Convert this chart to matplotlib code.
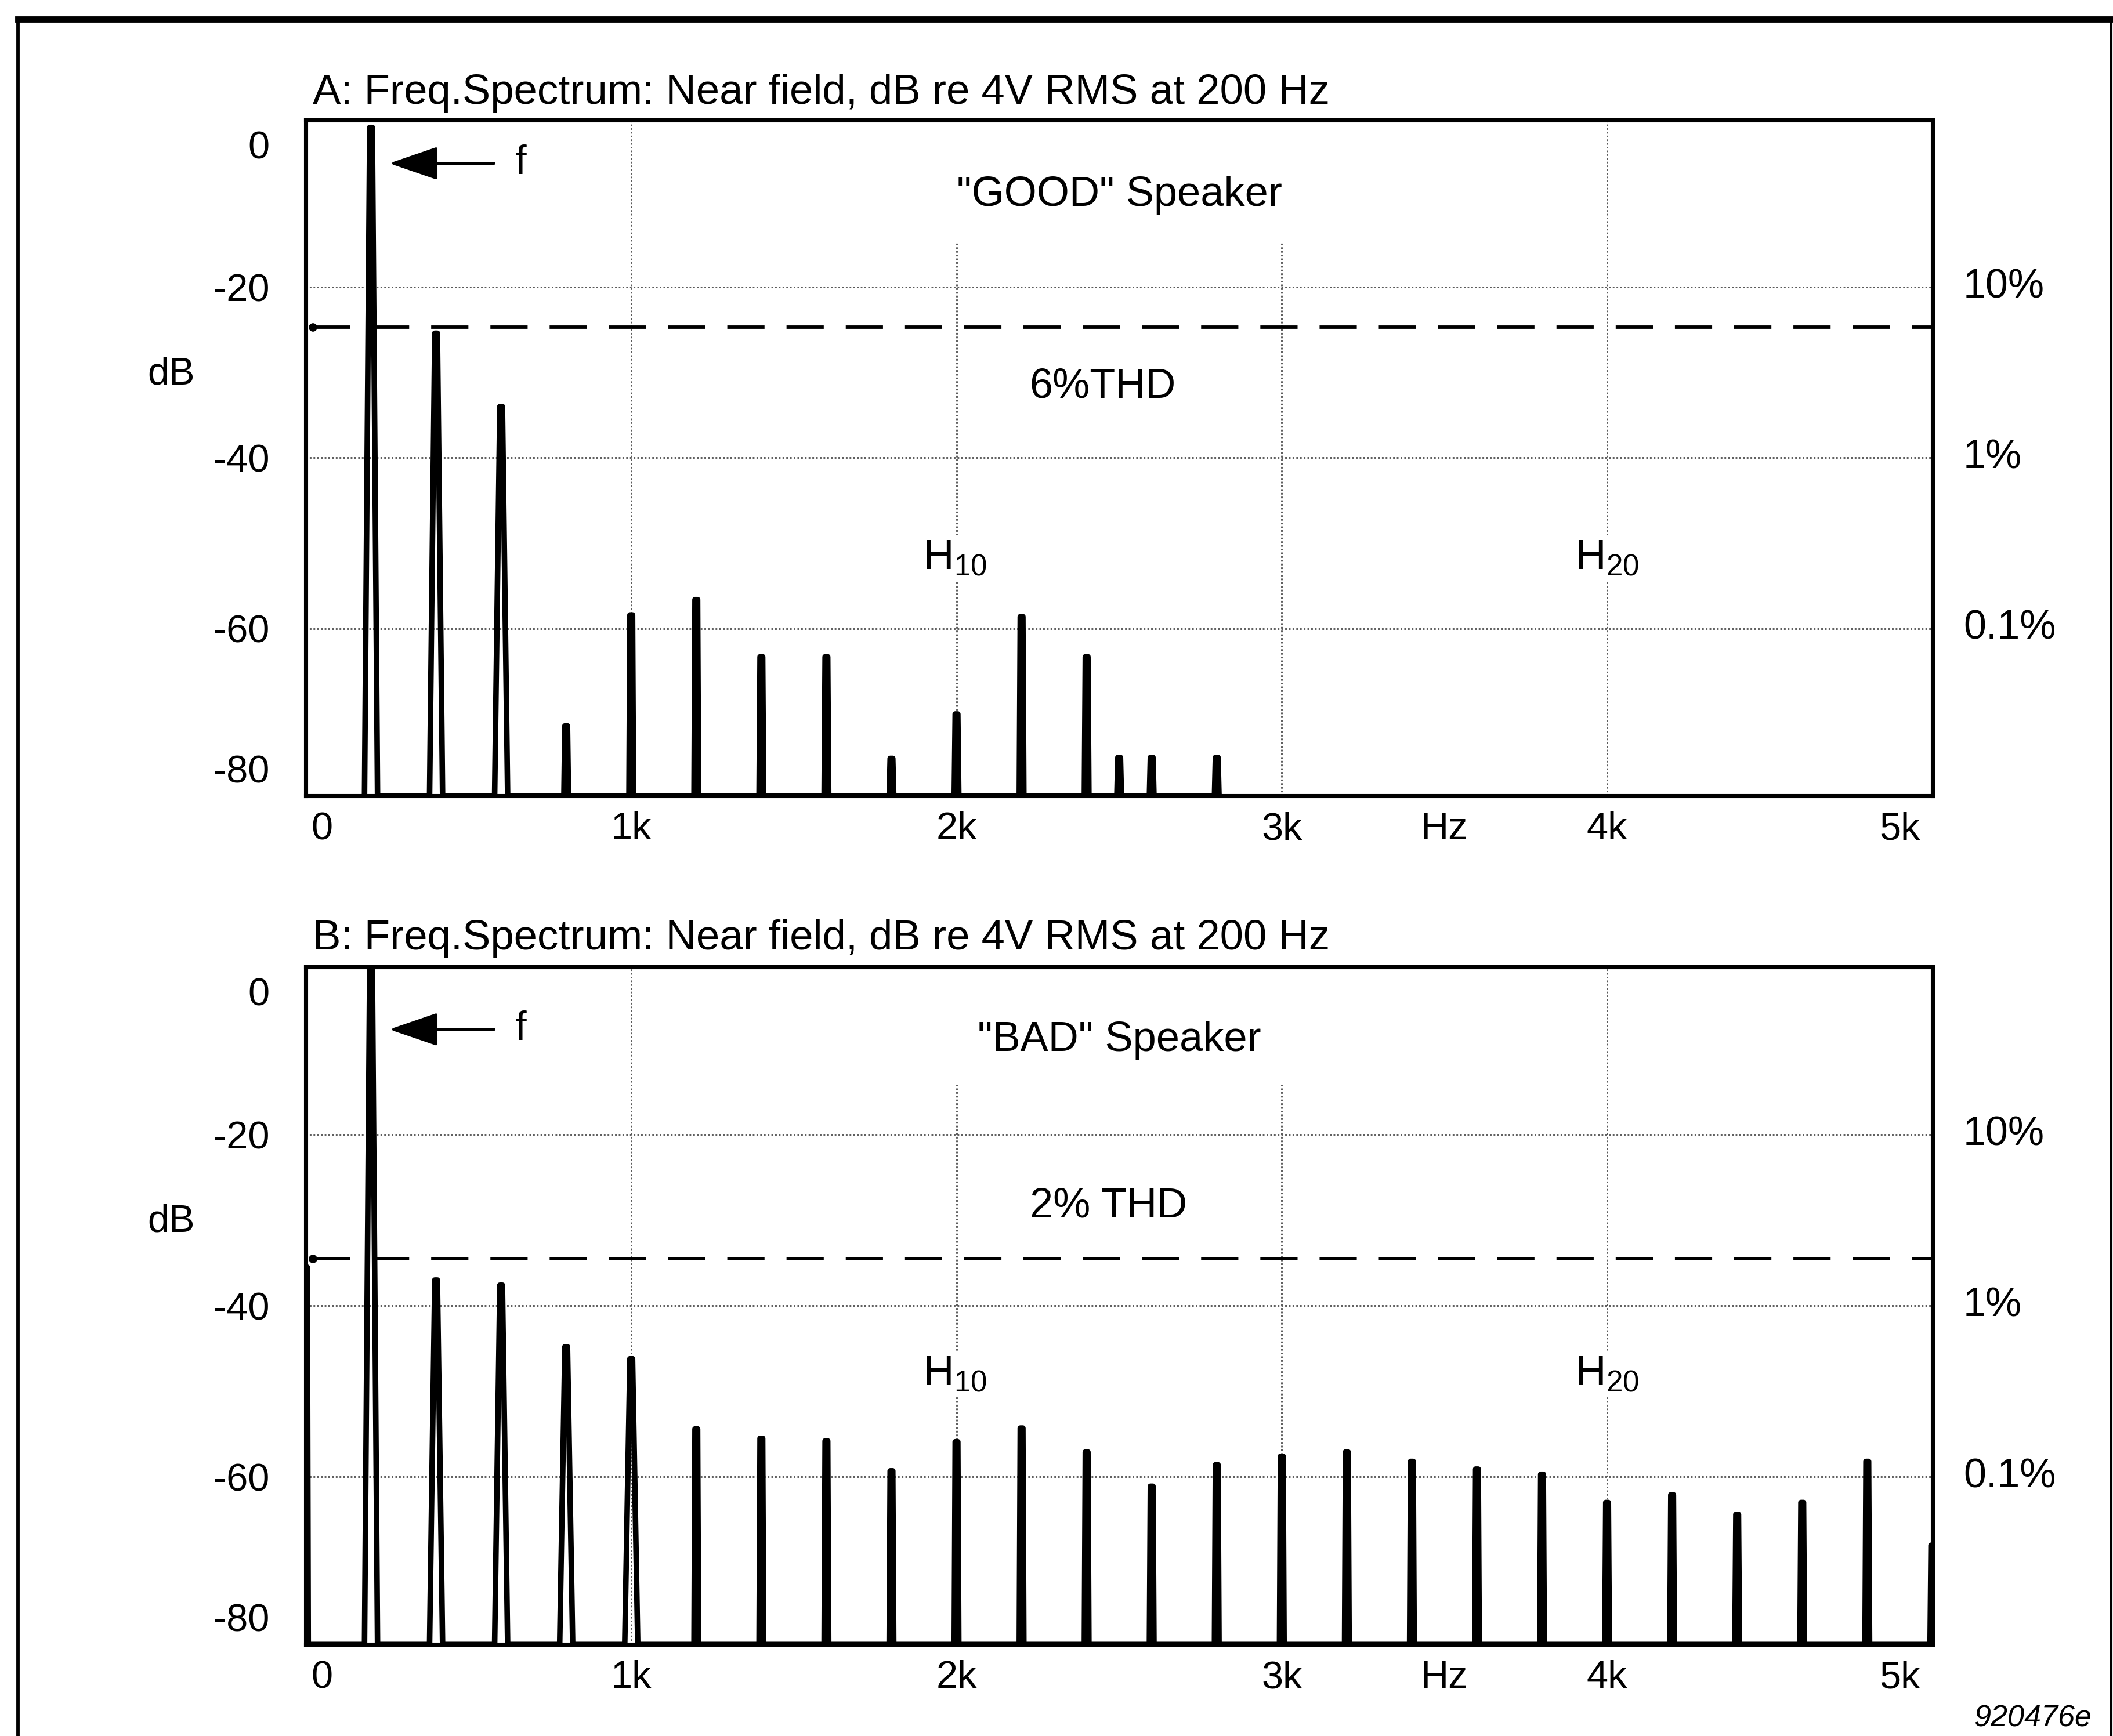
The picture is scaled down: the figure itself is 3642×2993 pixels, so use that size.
import matplotlib
matplotlib.use('Agg')
import matplotlib.pyplot as plt
import matplotlib.transforms as mtransforms
from matplotlib.lines import Line2D

plt.rcParams['font.family'] = ['Liberation Sans', 'DejaVu Sans']
plt.rcParams['mathtext.fontset'] = 'custom'
plt.rcParams['mathtext.rm'] = 'Liberation Sans'

# --- data (Hz, dB re 4V RMS) ---
good_freq = [200, 400, 600, 800, 1000, 1200, 1400, 1600, 1800, 2000,
             2200, 2400, 2500, 2600, 2800]
good_db = [-1.3, -25.4, -34.0, -71.4, -58.4, -56.6, -63.3, -63.3, -75.2, -70.0,
           -58.6, -63.3, -75.1, -75.1, -75.1]

bad_freq = [0, 200, 400, 600, 800, 1000, 1200, 1400, 1600, 1800, 2000,
            2200, 2400, 2600, 2800, 3000, 3200, 3400, 3600, 3800, 4000,
            4200, 4400, 4600, 4800, 5000]
bad_db = [-35.5, 0.0, -37.0, -37.6, -44.8, -46.2, -54.4, -55.5, -55.8, -59.3, -55.9,
          -54.3, -57.1, -61.1, -58.6, -57.6, -57.1, -58.2, -59.1, -59.7, -63.0,
          -62.1, -64.4, -63.0, -58.2, -68.0]

titles = ["A: Freq.Spectrum: Near field, dB re 4V RMS at 200 Hz",
          "B: Freq.Spectrum: Near field, dB re 4V RMS at 200 Hz"]
speakers = ['"GOOD" Speaker', '"BAD" Speaker']
thd_labels = ["6%THD", "2% THD"]
thd_db = [-24.7, -34.5]

x_ticks = [50, 1000, 2000, 3000, 3500, 4000, 4900]
x_labels = ["0", "1k", "2k", "3k", "Hz", "4k", "5k"]
y_ticks = [-3.3, -20, -40, -60, -76.4]
y_labels = ["0", "-20", "-40", "-60", "-80"]
pct_db = [-20, -40, -60]
pct_labels = ["10%", "1%", "0.1%"]

YLIM = (-79.6, -0.4)


def trace(freqs, levels, floor):
    # spectrum trace: each line rises from the floor to its level and back
    xs, ys = [], []
    for f, lv in zip(freqs, levels):
        hw = 20 if (lv > -50 and f > 0) else 7
        xs += [f - hw, f - 4, f + 4, f + hw]
        ys += [floor, lv, lv, floor]
    return xs, ys


fig = plt.figure(figsize=(3642 / 300, 2993 / 300), dpi=300)

panels = [
    dict(rect=[0.1448, 0.5415, 0.7697, 0.3895], freq=good_freq, db=good_db,
         title_y=1.024, spk_y=-10.5, thd_xy=(2450, -31.7), h_y=-51.8,
         arrow_y=-5.5, grid_top=-14.8),
    dict(rect=[0.1448, 0.0527, 0.7697, 0.3903], freq=bad_freq, db=bad_db,
         title_y=1.026, spk_y=-10.2, thd_xy=(2467, -28.4), h_y=-48.0,
         arrow_y=-7.7, grid_top=-14.0),
]

for i, p in enumerate(panels):
    ax = fig.add_axes(p['rect'])
    ax.set_xlim(0, 5000)
    ax.set_ylim(*YLIM)
    blend = mtransforms.blended_transform_factory(ax.transAxes, ax.transData)

    # dotted grid
    for g in pct_db:
        ax.axhline(g, color='0.35', lw=0.7, ls=(0, (1, 1.2)), zorder=1)
    for gx, top in zip([1000, 2000, 3000, 4000], [0, p['grid_top'], p['grid_top'], 0]):
        ax.vlines(gx, YLIM[0], top, color='0.35', lw=0.7, ls=(0, (1, 1.2)), zorder=1)

    # THD dashed line
    ax.axhline(thd_db[i], xmin=0.004, color='k', lw=1.4, dashes=(11, 6.5), zorder=2)
    ax.plot([20], [thd_db[i]], 'o', color='k', ms=2.5, zorder=2)

    # spectrum
    xs, ys = trace(p['freq'], p['db'], YLIM[0])
    ax.plot(xs, ys, color='k', lw=2.3, zorder=3)

    for s in ax.spines.values():
        s.set_linewidth(1.7)
        s.set_zorder(5)

    ax.set_xticks(x_ticks)
    ax.set_xticklabels(x_labels)
    ax.set_yticks(y_ticks)
    ax.set_yticklabels(y_labels)
    ax.tick_params(axis='both', length=0, labelsize=16)
    ax.tick_params(axis='y', pad=15)
    ax.tick_params(axis='x', pad=6.5)

    for lv, lab in zip(pct_db, pct_labels):
        ax.text(1.019, lv, lab, transform=blend, ha='left', va='center', fontsize=16.8)
    ax.text(-0.083, -30.2, "dB", transform=blend, ha='center', va='center', fontsize=16)

    ax.text(0.004, p['title_y'], titles[i], transform=ax.transAxes,
            ha='left', va='baseline', fontsize=17.4)
    ax.text(2500, p['spk_y'], speakers[i], ha='center', va='baseline', fontsize=17.3)
    ax.text(p['thd_xy'][0], p['thd_xy'][1], thd_labels[i], ha='center', va='center',
            fontsize=17.3)

    for hx, hlab in [(1996, r'$\mathregular{H_{10}}$'), (4000, r'$\mathregular{H_{20}}$')]:
        ax.text(hx, p['h_y'], hlab, ha='center', va='center', fontsize=17.5, zorder=4,
                bbox=dict(facecolor='white', edgecolor='none', pad=1.5))

    ax.annotate('', xy=(256, p['arrow_y']), xytext=(578, p['arrow_y']),
                arrowprops=dict(arrowstyle='-|>,head_length=1.75,head_width=0.6',
                                mutation_scale=10, lw=1.2, color='k',
                                shrinkA=0, shrinkB=0), zorder=4)
    ax.text(661, p['arrow_y'], "f", ha='center', va='center', fontsize=17)

# outer frame
fig.add_artist(Line2D([0.0085, 0.0085], [0, 0.989], transform=fig.transFigure, color='k', lw=1.4))
fig.add_artist(Line2D([0.0085, 0.9992], [0.989, 0.989], transform=fig.transFigure, color='k', lw=2.6))
fig.add_artist(Line2D([0.9992, 0.9992], [0, 0.989], transform=fig.transFigure, color='k', lw=1.0))

fig.text(0.990, 0.010, "920476e", ha='right', va='center', style='italic', fontsize=12.5)

fig.savefig('out.png', dpi=300, facecolor='white')
